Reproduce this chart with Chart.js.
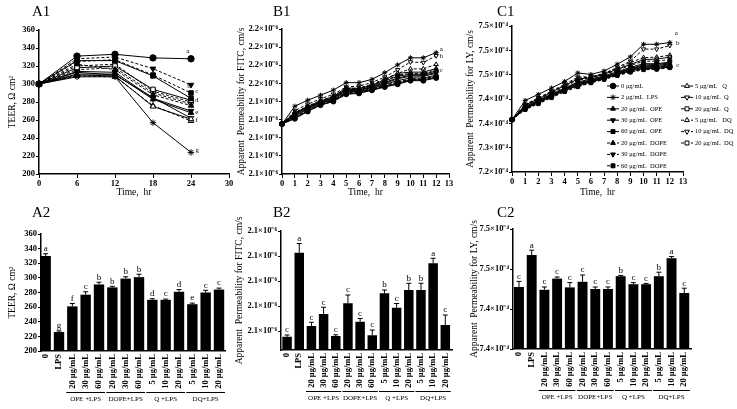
<!DOCTYPE html>
<html>
<head>
<meta charset="utf-8">
<script src="https://cdn.jsdelivr.net/npm/chart.js@4.4.0/dist/chart.umd.min.js"></script>
<style>
  html, body { margin: 0; padding: 0; background: #fff; }
  #page { position: relative; width: 737px; height: 409px; overflow: hidden; font-family: 'Liberation Serif', serif; }
  .panel { position: absolute; }
  .tag { position: absolute; font-size: 15px; line-height: 15px; color: #000; }
</style>
</head>
<body>
<div id="page">
  <canvas id="cA1" class="panel" width="240" height="200" style="left:0;top:0"></canvas>
  <canvas id="cB1" class="panel" width="229" height="200" style="left:233px;top:0"></canvas>
  <canvas id="cC1" class="panel" width="275" height="200" style="left:462px;top:0"></canvas>
  <canvas id="cA2" class="panel" width="240" height="209" style="left:0;top:200px"></canvas>
  <canvas id="cB2" class="panel" width="229" height="209" style="left:233px;top:200px"></canvas>
  <canvas id="cC2" class="panel" width="275" height="209" style="left:462px;top:200px"></canvas>
  <div class="tag" style="left:32px;top:4px">A1</div>
  <div class="tag" style="left:273px;top:4px">B1</div>
  <div class="tag" style="left:497px;top:4px">C1</div>
  <div class="tag" style="left:32px;top:205px">A2</div>
  <div class="tag" style="left:273px;top:205px">B2</div>
  <div class="tag" style="left:497px;top:205px">C2</div>
</div>
<script>
// ---- data ----

// series order: 0, LPS, OPE 20/30/60, DOPE 20/30/60, Q 5/10/20, DQ 5/10/20
const seriesLabels = ['0 μg/mL', '2 μg/mL  LPS', '20 μg/mL  OPE', '30 μg/mL  OPE', '60 μg/mL  OPE',
  '20 μg/mL  DOPE', '30 μg/mL  DOPE', '60 μg/mL  DOPE', '5 μg/mL   Q', '10 μg/mL  Q', '20 μg/mL  Q',
  '5 μg/mL   DQ', '10 μg/mL  DQ', '20 μg/mL  DQ'];

// A1: TEER over time
const teerHours = [0, 6, 12, 18, 24];
const teerSeries = [
  [300, 331, 333, 329, 328],
  [300, 308, 308, 257, 224],
  [300, 311, 311, 283, 268],
  [300, 314, 313, 284, 270],
  [300, 326, 326, 309, 284],
  [300, 322, 316, 288, 276],
  [300, 328, 330, 317, 299],
  [300, 325, 327, 310, 290],
  [300, 310, 309, 275, 261],
  [300, 313, 310, 285, 262],
  [300, 318, 320, 294, 282],
  [300, 309, 308, 276, 259],
  [300, 316, 318, 290, 278],
  [300, 320, 322, 292, 280]
];
const teerCurveLetters = ['a', 'b', 'c', 'd', 'e', 'f', 'g'];
const teerCurveLetterX = [23.5, 23.7, 24.9, 24.9, 24.9, 24.9, 25.0];
const teerCurveLetterY = [336, 298, 292, 282, 269, 260, 227];

// B1 / C1: permeability over time (values in tick-step units of the printed axis)
const permHours = [0, 1, 2, 3, 4, 5, 6, 7, 8, 9, 10, 11, 12];
const fitcTickLabels = ['2.1×10⁻⁶', '2.1×10⁻⁶', '2.1×10⁻⁶', '2.1×10⁻⁶', '2.1×10⁻⁶',
  '2.2×10⁻⁶', '2.2×10⁻⁶', '2.2×10⁻⁶', '2.2×10⁻⁶'];
const fitcSeries = [
  [2.76, 3.05, 3.45, 3.80, 4.00, 4.40, 4.45, 4.62, 4.80, 4.95, 5.15, 5.15, 5.30],
  [2.76, 3.74, 4.07, 4.35, 4.63, 5.04, 5.04, 5.22, 5.59, 6.02, 6.41, 6.41, 6.70],
  [2.76, 3.20, 3.55, 3.90, 4.10, 4.55, 4.55, 4.72, 4.95, 5.15, 5.30, 5.30, 5.45],
  [2.76, 3.30, 3.65, 3.95, 4.20, 4.65, 4.62, 4.80, 5.05, 5.30, 5.45, 5.45, 5.60],
  [2.76, 3.10, 3.48, 3.82, 4.05, 4.45, 4.48, 4.65, 4.85, 5.00, 5.20, 5.20, 5.35],
  [2.76, 3.35, 3.70, 4.00, 4.25, 4.70, 4.70, 4.88, 5.15, 5.45, 5.55, 5.55, 5.75],
  [2.76, 3.15, 3.50, 3.85, 4.08, 4.50, 4.52, 4.70, 4.90, 5.08, 5.25, 5.25, 5.40],
  [2.76, 3.08, 3.46, 3.81, 4.02, 4.42, 4.46, 4.63, 4.82, 4.98, 5.18, 5.17, 5.32],
  [2.76, 3.38, 3.72, 4.02, 4.28, 4.75, 4.72, 4.90, 5.20, 5.55, 5.62, 5.62, 5.82],
  [2.76, 3.25, 3.60, 3.92, 4.15, 4.60, 4.60, 4.78, 5.00, 5.25, 5.40, 5.40, 5.55],
  [2.76, 3.32, 3.68, 3.98, 4.22, 4.68, 4.65, 4.85, 5.12, 5.40, 5.50, 5.50, 5.68],
  [2.76, 3.40, 3.75, 4.05, 4.30, 4.70, 4.75, 4.95, 5.25, 5.55, 5.80, 5.80, 6.05],
  [2.76, 3.50, 3.85, 4.15, 4.40, 4.80, 4.85, 5.05, 5.35, 5.75, 6.18, 6.15, 6.52],
  [2.76, 3.12, 3.47, 3.83, 4.06, 4.47, 4.50, 4.67, 4.88, 5.05, 5.22, 5.22, 5.38]
];
const fitcCurveLetters = ['a', 'b', 'c'];
const fitcCurveLetterX = [12.4, 12.4, 12.4];
const fitcCurveLetterY = [6.89, 6.50, 5.72];

const lyTickLabels = ['7.2×10⁻⁴', '7.3×10⁻⁴', '7.4×10⁻⁴', '7.4×10⁻⁴', '7.5×10⁻⁴', '7.5×10⁻⁴', '7.5×10⁻⁴'];
const lySeries = [
  [2.15, 2.60, 2.85, 3.10, 3.35, 3.55, 3.70, 3.85, 4.00, 4.15, 4.25, 4.25, 4.32],
  [2.15, 2.94, 3.19, 3.45, 3.72, 4.07, 4.01, 4.15, 4.43, 4.73, 5.25, 5.25, 5.32],
  [2.15, 2.65, 2.90, 3.15, 3.40, 3.62, 3.75, 3.90, 4.05, 4.22, 4.32, 4.34, 4.40],
  [2.15, 2.70, 2.95, 3.20, 3.45, 3.70, 3.82, 3.95, 4.12, 4.30, 4.45, 4.45, 4.52],
  [2.15, 2.62, 2.88, 3.12, 3.38, 3.58, 3.72, 3.86, 4.02, 4.18, 4.30, 4.30, 4.36],
  [2.15, 2.72, 2.98, 3.25, 3.50, 3.78, 3.85, 4.00, 4.18, 4.38, 4.55, 4.56, 4.62],
  [2.15, 2.58, 2.82, 3.08, 3.32, 3.52, 3.68, 3.82, 3.98, 4.12, 4.22, 4.24, 4.30],
  [2.15, 2.60, 2.84, 3.10, 3.34, 3.55, 3.70, 3.84, 4.00, 4.16, 4.27, 4.28, 4.34],
  [2.15, 2.75, 3.00, 3.28, 3.55, 3.82, 3.88, 4.02, 4.22, 4.42, 4.62, 4.64, 4.72],
  [2.15, 2.66, 2.92, 3.18, 3.42, 3.66, 3.78, 3.92, 4.08, 4.26, 4.40, 4.42, 4.48],
  [2.15, 2.64, 2.90, 3.16, 3.40, 3.64, 3.76, 3.90, 4.06, 4.24, 4.36, 4.38, 4.44],
  [2.15, 2.76, 3.02, 3.30, 3.56, 3.85, 3.90, 4.04, 4.25, 4.50, 4.70, 4.72, 4.80],
  [2.15, 2.78, 3.05, 3.32, 3.60, 3.90, 3.92, 4.05, 4.30, 4.55, 5.05, 5.05, 5.20],
  [2.15, 2.56, 2.80, 3.05, 3.30, 3.50, 3.66, 3.80, 3.96, 4.10, 4.20, 4.22, 4.28]
];
const lyCurveLetters = ['a', 'b', 'c'];
const lyCurveLetterX = [12.5, 12.6, 12.6];
const lyCurveLetterY = [5.70, 5.28, 4.40];

// A2 / B2 / C2: bars
const barLabels = ['0', 'LPS', '20 μg/mL', '30 μg/mL', '60 μg/mL', '20 μg/mL', '30 μg/mL', '60 μg/mL',
  '5 μg/mL', '10 μg/mL', '20 μg/mL', '5 μg/mL', '10 μg/mL', '20 μg/mL'];
const groupNames = ['OPE +LPS', 'DOPE+LPS', 'Q +LPS', 'DQ+LPS'];
const groupFirst = [2, 5, 8, 11];
const groupLast = [4, 7, 10, 13];

const teerBars = [330, 226, 261, 277, 291, 287, 299, 301, 270, 270, 281, 264, 280, 284];
const teerErr = [3, 1.5, 4, 4, 3, 1.5, 2.5, 4, 1.5, 1, 3, 1.5, 3, 2];
const teerBarLetters = ['a', 'g', 'f', 'c', 'b', 'b', 'b', 'b', 'd', 'c', 'd', 'e', 'c', 'c'];

const fitcBarTickLabels = ['2.1×10⁻⁶', '2.1×10⁻⁶', '2.1×10⁻⁶', '2.1×10⁻⁶', '2.1×10⁻⁶'];
const fitcBars = [-0.23, 3.13, 0.20, 0.68, -0.20, 1.11, 0.37, -0.17, 1.51, 0.93, 1.64, 1.64, 2.71, 0.24];
const fitcErr = [0.07, 0.37, 0.15, 0.27, 0.05, 0.33, 0.13, 0.21, 0.13, 0.17, 0.27, 0.27, 0.20, 0.40];
const fitcBarLetters = ['c', 'a', 'c', 'c', 'c', 'c', 'c', 'c', 'b', 'c', 'b', 'b', 'a', 'c'];

const lyBarTickLabels = ['7.4×10⁻⁴', '7.4×10⁻⁴', '7.5×10⁻⁴', '7.5×10⁻⁴'];
const lyBars = [1.55, 2.35, 1.48, 1.76, 1.54, 1.68, 1.50, 1.50, 1.82, 1.62, 1.62, 1.82, 2.27, 1.40];
const lyErr = [0.14, 0.12, 0.07, 0.04, 0.12, 0.17, 0.05, 0.05, 0.02, 0.04, 0.02, 0.10, 0.04, 0.12];
const lyBarLetters = ['c', 'a', 'c', 'c', 'c', 'c', 'c', 'c', 'b', 'c', 'c', 'b', 'a', 'c'];

// ---- marker styles (same order as seriesLabels) ----
const markerShape = ['circle', 'star', 'triangle', 'triangle', 'rect', 'triangle', 'triangle', 'rect',
  'triangle', 'triangle', 'rect', 'triangle', 'triangle', 'rect'];
const markerRotation = [0, 0, 0, 180, 0, 0, 180, 0, 0, 180, 0, 0, 180, 0];
const markerOpen = [false, false, false, false, false, false, false, false, true, true, true, true, true, true];
const lineDashed = [false, false, false, false, false, true, true, true, false, false, false, true, true, true];

Chart.defaults.font.family = "'Liberation Serif', serif";
Chart.defaults.color = '#000';

const tickFont = { family: "'Liberation Serif', serif", size: 8.5, weight: 'bold' };
const titleFont = { family: "'Liberation Serif', serif", size: 9.5 };

/* ========================================
   Plugins
   ======================================== */

// letters next to the curve ends
const curveLetters = {
  id: 'curveLetters',
  afterDatasetsDraw(chart, args, opts) {
    if (!opts.letters) return;
    const { ctx, scales } = chart;
    ctx.save();
    ctx.fillStyle = '#000';
    ctx.font = "7px 'Liberation Serif'";
    ctx.textAlign = 'center';
    ctx.textBaseline = 'middle';
    opts.letters.forEach((txt, i) => {
      ctx.fillText(txt, scales.x.getPixelForValue(opts.xs[i]), scales.y.getPixelForValue(opts.ys[i]));
    });
    ctx.restore();
  }
};

// upper error bars with significance letters
const errorBars = {
  id: 'errorBars',
  afterDatasetsDraw(chart, args, opts) {
    if (!opts.errors) return;
    const { ctx } = chart;
    const yScale = chart.scales.y;
    const meta = chart.getDatasetMeta(0);
    const values = chart.data.datasets[0].data;
    ctx.save();
    ctx.strokeStyle = '#000';
    ctx.fillStyle = '#000';
    ctx.lineWidth = 1;
    ctx.font = "9px 'Liberation Serif'";
    ctx.textAlign = 'center';
    ctx.textBaseline = 'bottom';
    meta.data.forEach((bar, i) => {
      const top = yScale.getPixelForValue(values[i].y + opts.errors[i]);
      ctx.beginPath();
      ctx.moveTo(bar.x, bar.y);
      ctx.lineTo(bar.x, top);
      ctx.moveTo(bar.x - 2.5, top);
      ctx.lineTo(bar.x + 2.5, top);
      ctx.stroke();
      ctx.fillText(opts.letters[i], bar.x, top - 0.5);
    });
    ctx.restore();
  }
};

// group brackets under the rotated bar labels
const groupLabels = {
  id: 'groupLabels',
  afterDraw(chart) {
    const { ctx, chartArea } = chart;
    const x = chart.scales.x;
    ctx.save();
    ctx.strokeStyle = '#000';
    ctx.fillStyle = '#000';
    ctx.lineWidth = 1;
    ctx.font = "7px 'Liberation Serif'";
    ctx.textAlign = 'center';
    ctx.textBaseline = 'middle';
    groupNames.forEach((name, g) => {
      const x0 = x.getPixelForValue(groupFirst[g] - 0.45);
      const x1 = x.getPixelForValue(groupLast[g] + 0.45);
      const ly = Math.round(chartArea.bottom + 41) + 0.5;
      ctx.beginPath();
      ctx.moveTo(x0, ly);
      ctx.lineTo(x1, ly);
      ctx.stroke();
      ctx.fillText(name, (x0 + x1) / 2, ly + 7);
    });
    ctx.restore();
  }
};

// two-column legend inside C1
const sideLegend = {
  id: 'sideLegend',
  afterDraw(chart, args, opts) {
    if (!opts.show) return;
    const { ctx } = chart;
    ctx.save();
    ctx.font = "6.5px 'Liberation Serif'";
    ctx.textAlign = 'left';
    ctx.textBaseline = 'middle';
    chart.data.datasets.forEach((ds, i) => {
      const col = i < 8 ? 0 : 1;
      const row = i < 8 ? i : i - 8;
      const x = opts.columns[col];
      const y = opts.top + row * opts.rowGap;
      ctx.strokeStyle = '#000';
      ctx.lineWidth = 1;
      ctx.setLineDash(ds.borderDash);
      ctx.beginPath();
      ctx.moveTo(x, y);
      ctx.lineTo(x + 12, y);
      ctx.stroke();
      ctx.setLineDash([]);
      ctx.fillStyle = ds.pointBackgroundColor;
      Chart.helpers.drawPoint(ctx, {
        pointStyle: ds.pointStyle, rotation: ds.pointRotation, radius: 2.8, borderWidth: 1
      }, x + 6, y);
      ctx.fillStyle = '#000';
      ctx.fillText(ds.label, x + 14, y);
    });
    ctx.restore();
  }
};

/* ========================================
   Builders
   ======================================== */

function lineDatasets(times, series, radius) {
  return series.map((vals, i) => ({
    label: seriesLabels[i],
    data: times.map((t, k) => ({ x: t, y: vals[k] })),
    borderColor: '#000',
    borderWidth: 1,
    borderDash: lineDashed[i] ? [3, 2] : [],
    pointStyle: markerShape[i],
    pointRotation: markerRotation[i],
    pointRadius: radius,
    pointBackgroundColor: markerOpen[i] ? '#fff' : '#000',
    pointBorderColor: '#000',
    pointBorderWidth: 1,
    tension: 0,
    clip: false
  }));
}

function yScale(cfg) {
  return {
    type: 'linear',
    min: cfg.min,
    max: cfg.max,
    beginAtZero: false,
    border: { display: true, color: '#000', width: 1.5 },
    grid: { drawOnChartArea: false, drawTicks: true, tickLength: 3, color: '#000' },
    ticks: {
      font: tickFont, color: '#000', padding: 1, stepSize: 1,
      callback: cfg.labels ? (v) => cfg.labels[Math.round(v)] : undefined
    },
    afterBuildTicks: cfg.tickValues ? (s) => { s.ticks = cfg.tickValues.map(v => ({ value: v })); } : undefined,
    title: { display: true, text: cfg.title, font: titleFont, padding: { top: cfg.titlePad, bottom: 0 } },
    afterFit: (s) => { s.width = cfg.width; }
  };
}

function lineChart(id, cfg) {
  const yOpts = yScale(cfg.y);
  if (!cfg.y.labels) yOpts.ticks.stepSize = cfg.y.step;
  return new Chart(document.getElementById(id), {
    type: 'line',
    data: { datasets: lineDatasets(cfg.times, cfg.series, cfg.radius) },
    plugins: [curveLetters, sideLegend],
    options: {
      responsive: false,
      animation: false,
      events: [],
      layout: { padding: cfg.padding },
      plugins: {
        legend: { display: false },
        tooltip: { enabled: false },
        curveLetters: cfg.letters,
        sideLegend: cfg.legend || { show: false }
      },
      scales: {
        x: {
          type: 'linear',
          min: cfg.x.min,
          max: cfg.x.max,
          border: { display: true, color: '#000', width: 1.5 },
          grid: { drawOnChartArea: false, drawTicks: true, tickLength: 4, color: '#000' },
          ticks: { font: tickFont, color: '#000', padding: 1, stepSize: cfg.x.step, autoSkip: false, maxRotation: 0 },
          title: { display: true, text: 'Time,  hr', font: titleFont, padding: { top: 0, bottom: 2 } },
          afterFit: (s) => { s.height = cfg.x.height; }
        },
        y: yOpts
      }
    }
  });
}

function barChart(id, cfg) {
  return new Chart(document.getElementById(id), {
    type: 'bar',
    data: {
      datasets: [{
        data: cfg.values.map((v, i) => ({ x: i, y: v })),
        backgroundColor: '#000',
        borderWidth: 0,
        base: cfg.y.min,
        barPercentage: 0.78,
        categoryPercentage: 1
      }]
    },
    plugins: [errorBars, groupLabels],
    options: {
      responsive: false,
      animation: false,
      events: [],
      layout: { padding: cfg.padding },
      plugins: {
        legend: { display: false },
        tooltip: { enabled: false },
        errorBars: { errors: cfg.errors, letters: cfg.letters }
      },
      scales: {
        x: {
          type: 'linear',
          min: cfg.x.min,
          max: cfg.x.max,
          offset: false,
          border: { display: true, color: '#000', width: 1.5 },
          grid: { display: true, drawOnChartArea: false, drawTicks: false, offset: false },
          ticks: {
            font: tickFont, color: '#000', padding: 3, autoSkip: false,
            minRotation: 90, maxRotation: 90,
            callback: (v) => barLabels[Math.round(v)]
          },
          afterBuildTicks: (s) => { s.ticks = barLabels.map((_, i) => ({ value: i })); },
          afterFit: (s) => { s.height = cfg.x.height; }
        },
        y: yScale(cfg.y)
      }
    }
  });
}

/* ========================================
   Panels
   ======================================== */

lineChart('cA1', {
  times: teerHours, series: teerSeries, radius: 3.2,
  padding: { left: 0, top: 30, right: 11, bottom: 0 },
  x: { min: 0, max: 30, step: 6, height: 26 },
  y: { min: 200, max: 360, step: 20, width: 39, title: 'TEER, Ω cm²', titlePad: 6.3 },
  letters: { letters: teerCurveLetters, xs: teerCurveLetterX, ys: teerCurveLetterY }
});

lineChart('cB1', {
  times: permHours, series: fitcSeries, radius: 2.5,
  padding: { left: 0, top: 29, right: 13, bottom: 0 },
  x: { min: 0, max: 13, step: 1, height: 26 },
  y: { min: 0, max: 8, labels: fitcTickLabels, width: 49,
       title: 'Apparent  Permeability for FITC, cm/s', titlePad: 2.3 },
  letters: { letters: fitcCurveLetters, xs: fitcCurveLetterX, ys: fitcCurveLetterY }
});

lineChart('cC1', {
  times: permHours, series: lySeries, radius: 2.5,
  padding: { left: 0, top: 26, right: 54, bottom: 0 },
  x: { min: 0, max: 13, step: 1, height: 28 },
  y: { min: 0, max: 6, labels: lyTickLabels, width: 50,
       title: 'Apparent  Permeability for LY, cm/s', titlePad: 2.3 },
  letters: { letters: lyCurveLetters, xs: lyCurveLetterX, ys: lyCurveLetterY },
  legend: { show: true, columns: [145, 219], top: 86, rowGap: 11.4 }
});

barChart('cA2', {
  values: teerBars, errors: teerErr, letters: teerBarLetters,
  padding: { left: 0, top: 34, right: 15, bottom: 0 },
  x: { min: -0.35, max: 13.45, height: 58 },
  y: { min: 200, max: 360, tickValues: [200, 220, 240, 260, 280, 300, 320, 340, 360],
       width: 41, title: 'TEER, Ω cm²', titlePad: 6.3 }
});

barChart('cB2', {
  values: fitcBars, errors: fitcErr, letters: fitcBarLetters,
  padding: { left: 0, top: 31, right: 10, bottom: 0 },
  x: { min: -0.5, max: 13.55, height: 59 },
  y: { min: -0.76, max: 4, tickValues: [0, 1, 2, 3, 4], labels: fitcBarTickLabels,
       width: 48, title: 'Apparent  Permeability for FITC, cm/s', titlePad: 0.3 }
});

barChart('cC2', {
  values: lyBars, errors: lyErr, letters: lyBarLetters,
  padding: { left: 0, top: 29, right: 46, bottom: 0 },
  x: { min: -0.47, max: 13.53, height: 60 },
  y: { min: 0, max: 3, tickValues: [0, 1, 2, 3], labels: lyBarTickLabels,
       width: 51, title: 'Apparent  Permeability for LY, cm/s', titlePad: 6.3 }
});
</script>
</body>
</html>
